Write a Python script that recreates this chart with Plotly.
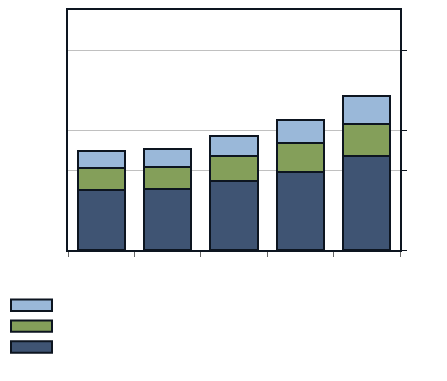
import plotly.graph_objects as go

categories = ["A", "B", "C", "D", "E"]
series_bottom = [75, 76, 86, 97, 117]
series_middle = [28, 28, 32, 37, 41]
series_top = [21, 22, 25, 28, 34]
y_ticks = [0, 100, 150, 250]

colors = {"bottom": "#3f5473", "middle": "#849f5a", "top": "#9ab8d9"}
outline = "#0d1520"

# page offset (body margin) and desired plot-area box in window px
OFF = 8
L, R, T, B = 68, 400, 8, 250
W, H = 447, 381

fig = go.Figure()
for name, vals in [("bottom", series_bottom), ("middle", series_middle), ("top", series_top)]:
    fig.add_trace(go.Bar(
        x=categories, y=vals, name="",
        marker=dict(color=colors[name], line=dict(color=outline, width=2)),
        showlegend=False, hoverinfo="skip",
    ))

def px_x(x):
    return (x - L) / (R - L)

def px_y(y):
    return (B - y) / (B - T)

# Legend swatches (empty labels in the reference)
for i, name in enumerate(["top", "middle", "bottom"]):
    y0 = 300 + i * 21
    fig.add_shape(type="rect", xref="paper", yref="paper",
                  x0=px_x(11), x1=px_x(52),
                  y0=px_y(y0 + 11.5), y1=px_y(y0),
                  fillcolor=colors[name], line=dict(color=outline, width=2))

fig.update_layout(
    width=W, height=H,
    margin=dict(l=L - OFF, r=W + OFF - R, t=T - OFF, b=H + OFF - B, pad=0),
    barmode="stack", bargap=0.29,
    plot_bgcolor="white", paper_bgcolor="white",
    showlegend=False,
    xaxis=dict(showline=True, linecolor=outline, linewidth=2, mirror=True,
               ticks="outside", tickson="boundaries", ticklen=5, tickcolor="#666666",
               showticklabels=False, showgrid=False),
    yaxis=dict(range=[0, 300], side="right", showline=True, linecolor=outline, linewidth=2,
               mirror=True, ticks="outside", ticklen=5, tickcolor=outline,
               tickvals=y_ticks, showticklabels=False,
               showgrid=True, gridcolor="#c0c0c0", gridwidth=1, zeroline=False),
)

fig.write_html("out.html")
